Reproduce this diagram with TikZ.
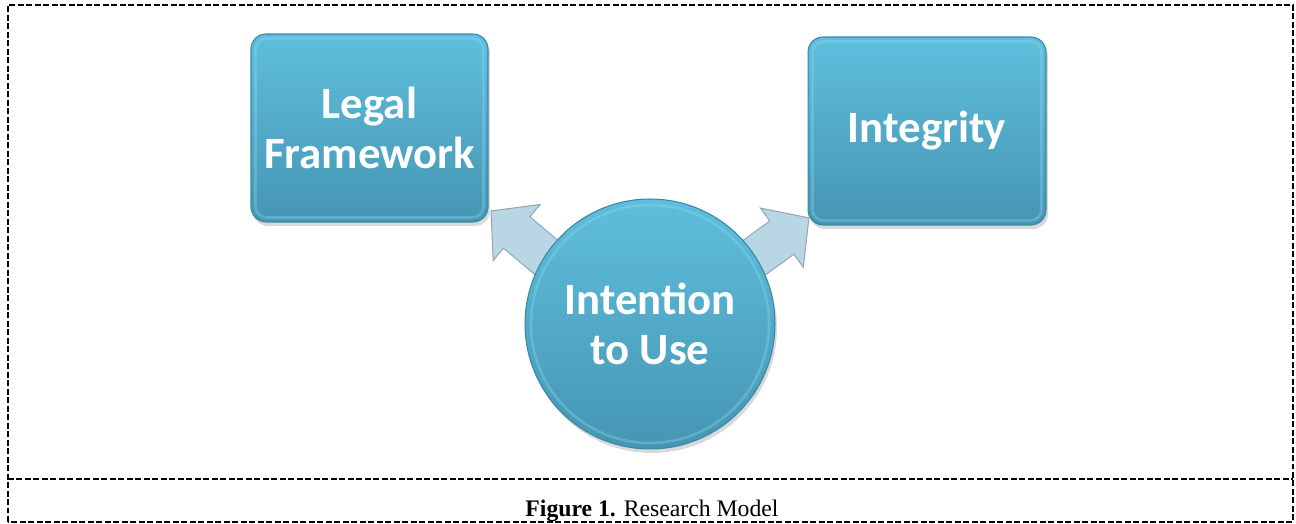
\documentclass[tikz,border=0pt]{standalone}
\usepackage{fontspec}
\setmainfont{Liberation Serif}
\newfontfamily\boxfont{Carlito}
\usetikzlibrary{shapes.arrows,shadows,backgrounds}

\definecolor{aquatop}{HTML}{5FBEDD}
\definecolor{aquabot}{HTML}{4596B3}
\definecolor{aquaedge}{HTML}{3A88A5}
\definecolor{aquarim}{HTML}{8ED8EF}
\definecolor{arrowfill}{HTML}{B9D6E5}
\definecolor{arrowedge}{HTML}{96A8B2}

\tikzstyle{block} = [rectangle, rounded corners=0.3cm, top color=aquatop, bottom color=aquabot, draw=aquaedge, line width=0.6pt, text=white, font=\boxfont\bfseries\fontsize{25.5}{28}\selectfont, align=center, drop shadow={opacity=0.3, shadow xshift=0.4mm, shadow yshift=-0.8mm}]
\tikzstyle{hub} = [block, circle, minimum size=5cm]
\tikzstyle{fatarrow} = [single arrow, fill=arrowfill, draw=arrowedge, line width=0.6pt, minimum height=2.4cm, inner sep=0.4cm, single arrow head extend=0.32cm, single arrow tip angle=95]
\tikzstyle{rim} = [draw=aquarim, line width=1.5pt, opacity=0.35]
\tikzstyle{frame} = [draw, line width=1.3pt, dash pattern=on 0.12cm off 0.05cm]

\begin{document}
\begin{tikzpicture}[x=0.02cm, y=0.02cm]
    \useasboundingbox (0,0) rectangle (1296,524);

    \node[block, minimum width=4.74cm, minimum height=3.76cm] (legal) at (369.5,396) {Legal\\Framework};
    \node[block, minimum width=4.76cm, minimum height=3.76cm] (integrity) at (927,393) {Integrity};
    \node[hub] (ituse) at (650,200) {Intention\\to Use};

    % arrows
    \begin{pgfonlayer}{background}
        \node[fatarrow, rotate=140, anchor=tip] (toLegal) at ([shift={(2,12)}]legal.south east) {};
        \node[fatarrow, rotate=36, anchor=tip] (toIntegrity) at ([shift={(2,8)}]integrity.south west) {};
    \end{pgfonlayer}

    % bevel
    \draw[rim, rounded corners=0.22cm] ([shift={(5,-5)}]legal.north west) rectangle ([shift={(-5,5)}]legal.south east);
    \draw[rim, rounded corners=0.22cm] ([shift={(5,-5)}]integrity.north west) rectangle ([shift={(-5,5)}]integrity.south east);
    \draw[rim] (ituse.center) circle (2.38cm);

    % frame
    \draw[frame] (8,2) rectangle (1293,519);
    \draw[frame] (8,45) -- (1293,45);
    \node[anchor=base, font=\fontsize{13.5}{16}\selectfont] (caption) at (652,7) {\textbf{Figure 1.} Research Model};
\end{tikzpicture}
\end{document}
